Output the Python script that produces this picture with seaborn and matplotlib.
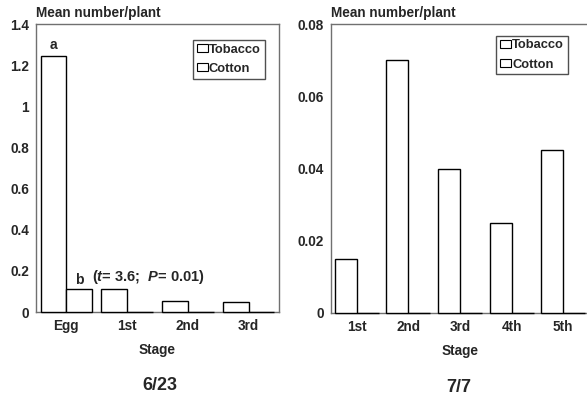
import numpy as np
import pandas as pd
import matplotlib
matplotlib.use("Agg")
import matplotlib.pyplot as plt
import seaborn as sns

# Données
hosts = ["Tobacco", "Cotton"]
stages_623 = ["Egg", "1st", "2nd", "3rd"]
tobacco_623 = [1.245, 0.11, 0.055, 0.05]
cotton_623 = [0.11, 0.0, 0.0, 0.0]

stages_77 = ["1st", "2nd", "3rd", "4th", "5th"]
tobacco_77 = [0.015, 0.07, 0.04, 0.025, 0.045]
cotton_77 = [0.0, 0.0, 0.0, 0.0, 0.0]

df1 = pd.DataFrame({
    "Stage": stages_623 * 2,
    "Host": ["Tobacco"] * len(stages_623) + ["Cotton"] * len(stages_623),
    "Value": tobacco_623 + cotton_623,
})
df2 = pd.DataFrame({
    "Stage": stages_77 * 2,
    "Host": ["Tobacco"] * len(stages_77) + ["Cotton"] * len(stages_77),
    "Value": tobacco_77 + cotton_77,
})

sns.set_style("white")
plt.rcParams["font.family"] = ["Liberation Sans", "DejaVu Sans"]
plt.rcParams["font.weight"] = "bold"
plt.rcParams["mathtext.fontset"] = "custom"
plt.rcParams["mathtext.it"] = "Liberation Sans:italic:bold"
plt.rcParams["mathtext.rm"] = "Liberation Sans:bold"

fig = plt.figure(figsize=(5.87, 4.0), dpi=100)
ax1 = fig.add_axes([0.0613, 0.22, 0.414, 0.72])
ax2 = fig.add_axes([0.5639, 0.2175, 0.4395, 0.7225])

FS = 9.8


def draw(ax, df, order, ymax, yticks, yticklabels, legend_xy):
    sns.barplot(data=df, x="Stage", y="Value", hue="Host", order=order,
                hue_order=hosts, palette=["white", "white"], edgecolor="black",
                linewidth=1, width=0.85, gap=0, ax=ax, errorbar=None)
    for p in ax.patches:
        p.set_clip_on(False)
        p.set_zorder(3)
    ax.set_ylim(0, ymax)
    ax.set_xlim(-0.5, len(order) - 0.5)
    ax.set_yticks(yticks)
    ax.set_yticklabels(yticklabels, fontsize=FS, fontweight="bold")
    ax.set_xticks(range(len(order)))
    ax.set_xticklabels(order, fontsize=FS, fontweight="bold")
    ax.tick_params(length=0, pad=5)
    ax.set_xlabel("Stage", fontsize=FS, fontweight="bold", labelpad=7)
    ax.set_ylabel("")
    for sp in ax.spines.values():
        sp.set_color("#707070")
        sp.set_linewidth(1)
    ax.text(0.0, 1.015, "Mean number/plant", transform=ax.transAxes,
            fontsize=FS, fontweight="bold", ha="left", va="bottom")
    handles, labels = ax.get_legend_handles_labels()
    ax.legend(handles=handles, labels=labels, loc="upper left",
              bbox_to_anchor=legend_xy, frameon=True, fancybox=False,
              edgecolor="#505050", framealpha=1,
              prop={"size": 9.3, "weight": "bold"},
              handlelength=0.85, handleheight=0.6, handletextpad=0.1,
              borderpad=0.3, labelspacing=0.55, borderaxespad=0)
    leg = ax.get_legend()
    leg.set_zorder(5)
    for h in leg.legend_handles:
        h.set_edgecolor("black")
        h.set_facecolor("white")
        h.set_linewidth(0.8)


draw(ax1, df1, stages_623, 1.4, [0, 0.2, 0.4, 0.6, 0.8, 1.0, 1.2, 1.4],
     ["0", "0.2", "0.4", "0.6", "0.8", "1", "1.2", "1.4"], (0.645, 0.945))
draw(ax2, df2, stages_77, 0.08, [0, 0.02, 0.04, 0.06, 0.08],
     ["0", "0.02", "0.04", "0.06", "0.08"], (0.64, 0.96))

# Annotations
ax1.text(-0.2125, tobacco_623[0] + 0.02, "a", ha="center", va="bottom",
         fontsize=10, fontweight="bold")
ax1.text(0.2125, cotton_623[0] + 0.012, "b", ha="center", va="bottom",
         fontsize=10, fontweight="bold")
ax1.text(0.43, 0.125, r"($\it{t}$= 3.6;  $\it{P}$= 0.01)",
         ha="left", va="bottom", fontsize=10.5, fontweight="bold")

fig.text(0.2725, 0.037, "6/23", ha="center", va="center", fontsize=13,
         fontweight="bold")
fig.text(0.782, 0.03, "7/7", ha="center", va="center", fontsize=13,
         fontweight="bold")

fig.savefig("out.png", dpi=100)
